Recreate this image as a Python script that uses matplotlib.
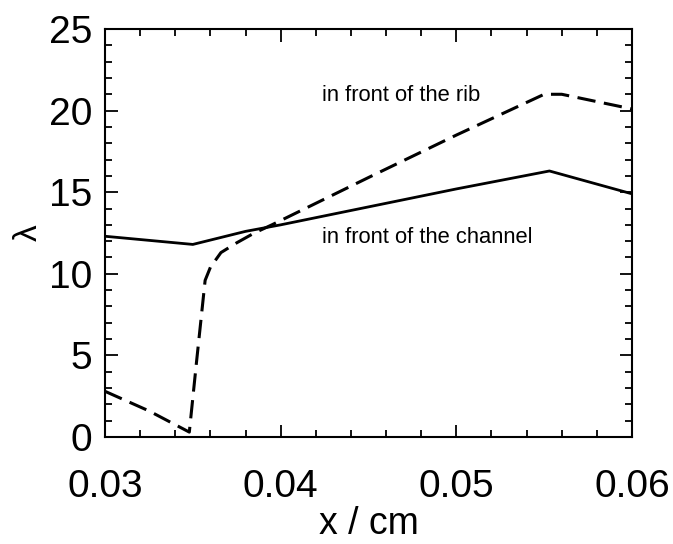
import matplotlib.pyplot as plt
from matplotlib.ticker import MultipleLocator

plt.rcParams['font.family'] = ['Liberation Sans', 'DejaVu Sans']

# --- data ---
x_channel = [0.0300, 0.0350, 0.0380, 0.0400, 0.0450, 0.0500, 0.0553, 0.0600]
y_channel = [12.3, 11.8, 12.6, 13.0, 14.1, 15.2, 16.3, 14.9]

x_rib = [0.0300, 0.0325, 0.0348, 0.0352, 0.0357, 0.0360, 0.0366, 0.0375,
         0.0385, 0.0395, 0.0450, 0.0500, 0.0550, 0.0560, 0.0600]
y_rib = [2.8, 1.6, 0.3, 4.5, 9.6, 10.4, 11.3, 11.9,
         12.5, 13.0, 15.9, 18.5, 21.0, 21.0, 20.1]

label_rib = "in front of the rib"
label_channel = "in front of the channel"

fig = plt.figure(figsize=(6.73, 5.44), dpi=100)
ax = fig.add_axes([105 / 673, 1 - 437 / 544, (632 - 105) / 673, (437 - 29) / 544])

ax.plot(x_channel, y_channel, color='black', linewidth=2.0)
ax.plot(x_rib, y_rib, color='black', linewidth=2.2, dashes=(6, 2.8))

ax.text(0.04235, 20.9, label_rib, fontsize=15.8, va='center', ha='left')
ax.text(0.04235, 12.2, label_channel, fontsize=15.8, va='center', ha='left')

ax.set_xlim(0.03, 0.06)
ax.set_ylim(0, 25)
ax.set_xticks([0.03, 0.04, 0.05, 0.06])
ax.set_xticklabels(['0.03', '0.04', '0.05', '0.06'])
ax.xaxis.set_minor_locator(MultipleLocator(0.002))
ax.yaxis.set_major_locator(MultipleLocator(5))
ax.yaxis.set_minor_locator(MultipleLocator(1))

ax.tick_params(which='both', direction='in', top=True, right=True, labelsize=28, width=1.3)
ax.tick_params(which='major', length=9)
ax.tick_params(which='minor', length=5)
ax.tick_params(axis='x', which='major', pad=23)
ax.tick_params(axis='y', which='major', pad=9)
for s in ax.spines.values():
    s.set_linewidth(1.5)

ax.set_xlabel("x / cm", fontsize=27, labelpad=0.5)
ax.set_ylabel("λ", fontsize=24, labelpad=4)

fig.savefig("out.png", dpi=100)
